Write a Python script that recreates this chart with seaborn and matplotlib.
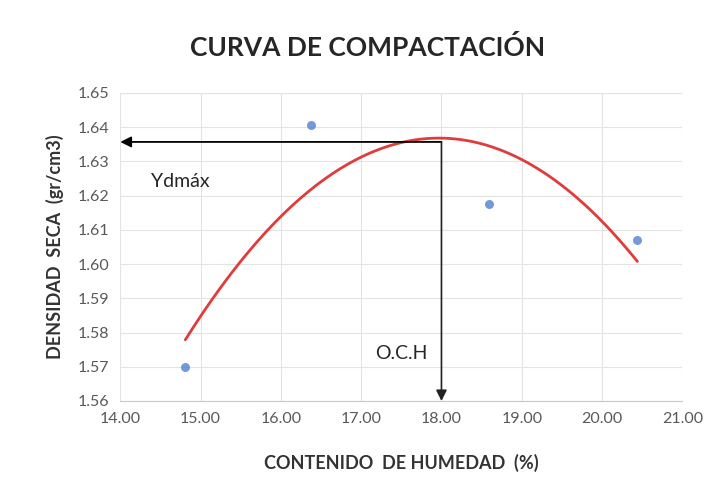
import numpy as np
import pandas as pd
import matplotlib
matplotlib.use('Agg')
import matplotlib.pyplot as plt
import seaborn as sns

# datos del ensayo Proctor
humedad = [14.81, 16.38, 18.59, 20.44]
densidad = [1.570, 1.6406, 1.6175, 1.607]
och = 18.0        # optimo contenido de humedad
ydmax = 1.6357    # densidad seca maxima
x_ticks = [14.0, 15.0, 16.0, 17.0, 18.0, 19.0, 20.0, 21.0]
y_ticks = [1.56, 1.57, 1.58, 1.59, 1.60, 1.61, 1.62, 1.63, 1.64, 1.65]

df = pd.DataFrame({'humedad': humedad, 'densidad': densidad})

sns.set_style('white')
plt.rcParams['font.family'] = ['Lato', 'DejaVu Sans']

fig = plt.figure(figsize=(7.16, 5), dpi=100)
ax = fig.add_axes([0.168, 0.198, 0.785, 0.616])

sns.regplot(data=df, x='humedad', y='densidad', order=2, ci=None, ax=ax,
            scatter_kws={'s': 42, 'color': '#4f81d0', 'zorder': 3, 'linewidths': 0},
            line_kws={'color': '#e03c3c', 'lw': 2, 'zorder': 2})

ax.set_xlim(14, 21)
ax.set_ylim(1.56, 1.65)
ax.set_xticks(x_ticks)
ax.set_yticks(y_ticks)
ax.set_xticklabels(['%.2f' % v for v in x_ticks])
ax.set_yticklabels(['%.2f' % v for v in y_ticks])
ax.tick_params(axis='both', colors='#595959', labelsize=11.5, length=0, pad=8)
ax.grid(True, color='#e3e3e3', lw=0.8)
for s in ['top', 'right', 'left']:
    ax.spines[s].set_visible(False)
ax.spines['bottom'].set_color('#c8c8c8')

ax.set_xlabel('CONTENIDO  DE HUMEDAD  (%)', fontsize=13, fontweight='bold',
              color='#333333', labelpad=20)
ax.set_ylabel('DENSIDAD  SECA  (gr/cm3)', fontsize=13, fontweight='bold',
              color='#333333', labelpad=10)

# flechas del punto optimo
ax.annotate('', xy=(14.0, ydmax), xytext=(och, ydmax),
            arrowprops=dict(arrowstyle='-|>', color='black', lw=1.3,
                            mutation_scale=16, shrinkA=0, shrinkB=0), zorder=4)
ax.annotate('', xy=(och, 1.56), xytext=(och, ydmax),
            arrowprops=dict(arrowstyle='-|>', color='#222222', lw=1.2,
                            mutation_scale=16, shrinkA=0, shrinkB=0), zorder=4)
ax.text(14.75, 1.624, 'Ydmáx', fontsize=14, color='#262626', ha='center', va='center')
ax.text(17.82, 1.574, 'O.C.H', fontsize=14, color='#262626', ha='right', va='center')

fig.text(0.514, 0.906, 'CURVA DE COMPACTACIÓN', fontsize=19, fontweight='bold',
         color='#262626', ha='center', va='center')

fig.savefig('out.png', dpi=100)
